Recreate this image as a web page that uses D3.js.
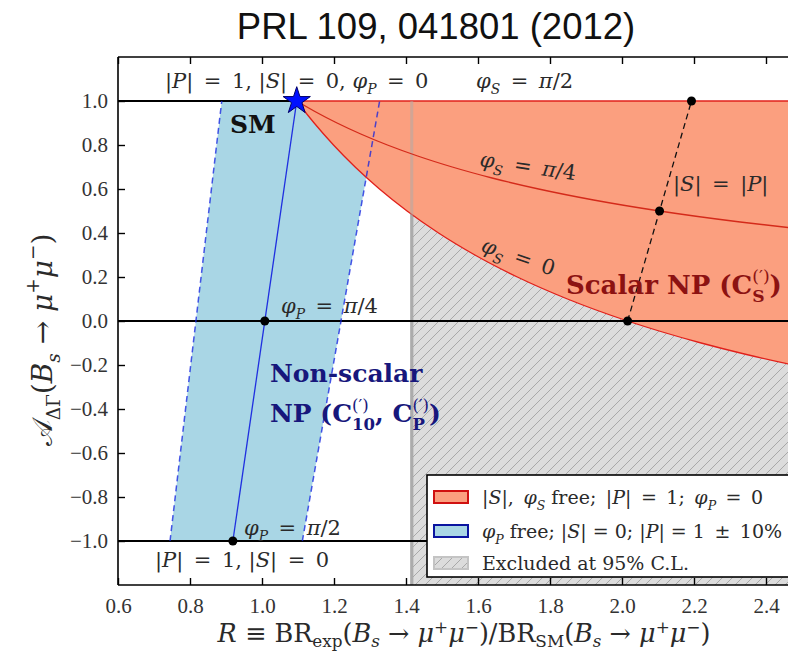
<!DOCTYPE html>
<html>
<head>
<meta charset="utf-8">
<script src="https://cdn.jsdelivr.net/npm/d3@7"></script>
<style>
  body { margin: 0; background: #fff; }
  text { white-space: pre; }
</style>
</head>
<body>
<svg id="chart" width="788" height="654" xmlns="http://www.w3.org/2000/svg"></svg>
<script>
// ---- data -------------------------------------------------------------
const xTicks = [0.6, 0.8, 1.0, 1.2, 1.4, 1.6, 1.8, 2.0, 2.2, 2.4];
const yTicks = [-1.0, -0.8, -0.6, -0.4, -0.2, 0.0, 0.2, 0.4, 0.6, 0.8, 1.0];

// phi_S = 0 boundary of the scalar region (R, A_DeltaGamma)
const phiS0R = [1.0965, 1.1201, 1.1449, 1.1986, 1.2587, 1.3263, 1.4029, 1.4904, 1.5914, 1.7092, 1.8485, 2.0156, 2.1124, 2.2199, 2.3400, 2.4752, 2.5341];
const phiS0A = [1.00, 0.95, 0.90, 0.80, 0.70, 0.60, 0.50, 0.40, 0.30, 0.20, 0.10, 0.00, -0.05, -0.10, -0.15, -0.20, -0.22];

// phi_S = pi/4 contour
const phiS45R = [1.0965, 1.1495, 1.2085, 1.2743, 1.3484, 1.4324, 1.5284, 1.6391, 1.7684, 1.9211, 2.1043, 2.3283, 2.4882, 2.5467];
const phiS45A = [1.00, 0.95, 0.90, 0.85, 0.80, 0.75, 0.70, 0.65, 0.60, 0.55, 0.50, 0.45, 0.42, 0.41];

// non-scalar band: |P| = 1 (centre) and |P| = 1 +/- 10 % (edges), phi_P free
const bandA = [-1.0, 1.0];
const bandLeftR = [0.7445, 0.8882];
const bandCenterR = [0.9191, 1.0965];
const bandRightR = [1.1121, 1.3268];

// |S| = |P| line
const sEqPR = [2.0156, 2.1930];
const sEqPA = [0.0, 1.0];

// marked points
const dotR = [0.9191, 1.0078, 2.0156, 2.1043, 2.1930];
const dotA = [-1.0, 0.0, 0.0, 0.5, 1.0];
const smPoint = [1.0965, 1.0];

// 95% C.L. exclusion bound on R
const excludedR = 1.416;

// ---- layout -----------------------------------------------------------
const svg = d3.select('#chart');
const X0 = 118, Y0 = 57, Y1 = 585;
const x = d3.scaleLinear().domain([0.6, 2.5]).range([X0, X0 + 1.9 * 360]);
const y = d3.scaleLinear().domain([-1.2, 1.2]).range([Y1, Y0]);
const SERIF = "'DejaVu Serif', serif";
const TSERIF = "'Liberation Serif', 'Times New Roman', serif";
const W = 788;
const E = '\u2002'; // en space, for math-style spacing around relations

svg.append('rect').attr('width', 788).attr('height', 654).attr('fill', '#fff');

const defs = svg.append('defs');
defs.append('clipPath').attr('id', 'plotClip')
  .append('rect').attr('x', X0).attr('y', Y0).attr('width', W - X0).attr('height', Y1 - Y0);

const pat = defs.append('pattern').attr('id', 'hatch')
  .attr('patternUnits', 'userSpaceOnUse').attr('width', 10).attr('height', 10);
pat.append('rect').attr('width', 10).attr('height', 10).attr('fill', '#dcdcdc');
pat.append('path').attr('d', 'M-2,2 L2,-2 M0,10 L10,0 M8,12 L12,8')
  .attr('stroke', '#9a9a9a').attr('stroke-width', 0.8);

const s0 = phiS0R.map((r, i) => [r, phiS0A[i]]);
const s45 = phiS45R.map((r, i) => [r, phiS45A[i]]);

// region below the phi_S = 0 boundary (limits the exclusion hatch)
defs.append('clipPath').attr('id', 'belowCurve')
  .append('path')
  .attr('d', d3.area().x(d => x(d[0])).y0(y(-1.3)).y1(d => y(d[1])).curve(d3.curveMonotoneX)(s0));

const plot = svg.append('g').attr('clip-path', 'url(#plotClip)');

// non-scalar band
plot.append('path')
  .attr('d', d3.line().x(d => x(d[0])).y(d => y(d[1]))([
    [bandLeftR[0], bandA[0]], [bandLeftR[1], bandA[1]],
    [bandRightR[1], bandA[1]], [bandRightR[0], bandA[0]]]))
  .attr('fill', '#a9d6e5');

// excluded region
plot.append('g').attr('clip-path', 'url(#belowCurve)')
  .append('rect')
  .attr('x', x(excludedR)).attr('y', y(1.0))
  .attr('width', x(2.6) - x(excludedR)).attr('height', y(-1.2) - y(1.0))
  .attr('fill', 'url(#hatch)');
plot.append('line')
  .attr('x1', x(excludedR)).attr('x2', x(excludedR))
  .attr('y1', y(-1.2)).attr('y2', y(1.0))
  .attr('stroke', '#ababab').attr('stroke-width', 3);

// horizontal reference line at the SM value
plot.append('line').attr('x1', x(0.6)).attr('x2', x(smPoint[0]))
  .attr('y1', y(1)).attr('y2', y(1)).attr('stroke', '#000').attr('stroke-width', 2.2);

// scalar region
plot.append('path')
  .attr('d', d3.area().x(d => x(d[0])).y0(d => y(d[1])).y1(y(1.0)).curve(d3.curveMonotoneX)(s0))
  .attr('fill', '#fb9f7f');
plot.append('path')
  .attr('d', d3.line().x(d => x(d[0])).y(d => y(d[1])).curve(d3.curveMonotoneX)(s0))
  .attr('fill', 'none').attr('stroke', '#e0201b').attr('stroke-width', 1.3);
plot.append('line').attr('x1', x(smPoint[0])).attr('x2', x(2.6))
  .attr('y1', y(1)).attr('y2', y(1)).attr('stroke', '#e0201b').attr('stroke-width', 1.3);
plot.append('line')
  .attr('x1', x(excludedR)).attr('x2', x(excludedR))
  .attr('y1', y(-1.2)).attr('y2', y(1.0))
  .attr('stroke', '#ababab').attr('stroke-width', 3).attr('opacity', 0.5);
plot.append('path')
  .attr('d', d3.line().x(d => x(d[0])).y(d => y(d[1])).curve(d3.curveMonotoneX)(s45))
  .attr('fill', 'none').attr('stroke', '#d42a1a').attr('stroke-width', 1.3);

[0, -1].forEach(a => {
  plot.append('line').attr('x1', x(0.6)).attr('x2', x(2.6))
    .attr('y1', y(a)).attr('y2', y(a)).attr('stroke', '#000').attr('stroke-width', 2.2);
});

// band lines
const seg = (r, a) => d3.line().x(d => x(d[0])).y(d => y(d[1]))([[r[0], a[0]], [r[1], a[1]]]);
plot.append('path').attr('d', seg(bandCenterR, bandA))
  .attr('stroke', '#1f2fe0').attr('stroke-width', 1.3).attr('fill', 'none');
[bandLeftR, bandRightR].forEach(r => {
  plot.append('path').attr('d', seg(r, bandA))
    .attr('stroke', '#1020e0').attr('stroke-width', 1.5).attr('fill', 'none')
    .attr('stroke-dasharray', '6,4').attr('opacity', 0.75);
});
plot.append('path').attr('d', seg(sEqPR, sEqPA))
  .attr('stroke', '#111').attr('stroke-width', 1.3).attr('fill', 'none')
  .attr('stroke-dasharray', '6,4');

// points
plot.selectAll('circle.pt').data(dotR).join('circle')
  .attr('cx', d => x(d)).attr('cy', (d, i) => y(dotA[i])).attr('r', 4.5).attr('fill', '#000');
plot.append('path')
  .attr('d', d3.symbol(d3.symbolStar, 230)())
  .attr('transform', `translate(${x(smPoint[0])},${y(smPoint[1])})`)
  .attr('fill', '#0010ff').attr('stroke', '#000066').attr('stroke-width', 1);

// ---- text helper: parts are [string, kind, stackBack]
function mtext(g, px, py, size, parts, opts = {}) {
  const t = g.append('text').attr('x', px).attr('y', py)
    .attr('font-size', size).attr('font-family', opts.family || SERIF)
    .attr('fill', opts.color || '#2a2a2a')
    .attr('text-anchor', opts.anchor || 'start');
  const subShift = opts.sub || 0.3, supShift = opts.sup || 0.45;
  let shift = 0, prev = null, pending = 0;
  for (const [s, k, back] of parts) {
    const ts = t.append('tspan').text(s);
    let target = 0, fs = size;
    if (k.includes('sub')) { target = subShift * size; fs = 0.66 * size; }
    else if (k.includes('sup')) { target = -supShift * size; fs = 0.66 * size; }
    if (k.startsWith('i')) ts.attr('font-style', 'italic');
    if (k.startsWith('b') || opts.bold) ts.attr('font-weight', 'bold');
    ts.attr('font-size', fs).attr('dy', target - shift);
    if (back && prev) {
      const wPrev = prev.node().getComputedTextLength();
      ts.attr('dx', -wPrev);
      const wThis = ts.node().getComputedTextLength();
      pending = Math.max(0, wPrev - wThis);
    } else if (pending) {
      ts.attr('dx', pending);
      pending = 0;
    }
    shift = target; prev = ts;
  }
  return t;
}

const labels = svg.append('g').attr('clip-path', 'url(#plotClip)');
const LS = 21;
const EQ = E + '=' + E;
mtext(labels, 165, 88, LS, [['|', 'r'], ['P', 'i'], ['|' + EQ + '1, |', 'r'], ['S', 'i'], ['|' + EQ + '0, ', 'r'], ['φ', 'i'], ['P', 'isub'], [EQ + '0', 'r']]);
mtext(labels, 476, 88, LS, [['φ', 'i'], ['S', 'isub'], [EQ, 'r'], ['π', 'i'], ['/2', 'r']]);
mtext(labels, 230, 133, 25, [['SM', 'b']], { color: '#111' });
mtext(labels.append('g').attr('transform', 'translate(479,166) rotate(8.5)'), 0, 0, LS,
  [['φ', 'i'], ['S', 'isub'], [EQ, 'r'], ['π', 'i'], ['/4', 'r']]);
mtext(labels, 673, 191, LS, [['|', 'r'], ['S', 'i'], ['|' + EQ + '|', 'r'], ['P', 'i'], ['|', 'r']]);
mtext(labels.append('g').attr('transform', 'translate(480,251) rotate(19)'), 0, 0, LS,
  [['φ', 'i'], ['S', 'isub'], [EQ + '0', 'r']]);
mtext(labels, 566, 294, 26, [['Scalar NP (C', 'b'], ['S', 'bsub'], ['(′)', 'sup', true], [')', 'b']], { color: '#8c1212' });
mtext(labels, 281, 313, LS, [['φ', 'i'], ['P', 'isub'], [EQ, 'r'], ['π', 'i'], ['/4', 'r']]);
mtext(labels, 270, 382, 25, [['Non-scalar', 'b']], { color: '#17177c' });
mtext(labels, 270, 422, 25, [['NP (C', 'b'], ['10', 'bsub'], ['(′)', 'sup', true], [', C', 'b'], ['P', 'bsub'], ['(′)', 'sup', true], [')', 'b']], { color: '#17177c' });
mtext(labels, 244, 535, LS, [['φ', 'i'], ['P', 'isub'], [EQ, 'r'], ['π', 'i'], ['/2', 'r']]);
mtext(labels, 155, 567, LS, [['|', 'r'], ['P', 'i'], ['|' + EQ + '1, |', 'r'], ['S', 'i'], ['|' + EQ + '0', 'r']]);

// ---- legend -----------------------------------------------------------
const lg = svg.append('g');
lg.append('rect').attr('x', 427).attr('y', 475).attr('width', 400).attr('height', 102)
  .attr('fill', '#fff').attr('stroke', '#000').attr('stroke-width', 1.6);
const legendRows = [
  { y: 497, fill: '#fb9f7f', stroke: '#d01010',
    parts: [['|', 'r'], ['S', 'i'], ['|,' + E, 'r'], ['φ', 'i'], ['S', 'isub'], [' free;' + E + '|', 'r'], ['P', 'i'], ['|' + EQ + '1;' + E, 'r'], ['φ', 'i'], ['P', 'isub'], [EQ + '0', 'r']] },
  { y: 531, fill: '#a9d6e5', stroke: '#0a14a0',
    parts: [['φ', 'i'], ['P', 'isub'], [' free; |', 'r'], ['S', 'i'], ['| = 0; |', 'r'], ['P', 'i'], ['| = 1' + E + '±' + E + '10%', 'r']] },
  { y: 563, fill: 'url(#hatch)', stroke: '#c4c4c4',
    parts: [['Excluded at 95% C.L.', 'r']] }
];
legendRows.forEach(row => {
  lg.append('rect').attr('x', 434).attr('y', row.y - 6).attr('width', 34).attr('height', 12)
    .attr('fill', row.fill).attr('stroke', row.stroke).attr('stroke-width', 2);
  mtext(lg, 482, row.y + 7, 19, row.parts);
});

// ---- axes frame and ticks ---------------------------------------------
const frame = svg.append('g');
frame.append('line').attr('x1', X0).attr('x2', W).attr('y1', Y0).attr('y2', Y0).attr('stroke', '#000').attr('stroke-width', 1.6);
frame.append('line').attr('x1', X0).attr('x2', W).attr('y1', Y1).attr('y2', Y1).attr('stroke', '#000').attr('stroke-width', 1.6);
frame.append('line').attr('x1', X0).attr('x2', X0).attr('y1', Y0).attr('y2', Y1).attr('stroke', '#000').attr('stroke-width', 1.6);

const fmt = d3.format('.1f');
const minus = s => s.replace('-', '−');
const xAxisB = d3.axisBottom(x).tickValues(xTicks).tickSize(-7).tickPadding(13).tickFormat(d => fmt(d));
const xAxisT = d3.axisTop(x).tickValues(xTicks).tickSize(-7).tickFormat('');
const yAxisL = d3.axisLeft(y).tickValues(yTicks).tickSize(-7).tickPadding(10).tickFormat(d => minus(fmt(d)));
function styleAxis(g) {
  g.select('.domain').remove();
  g.selectAll('.tick line').attr('stroke', '#000').attr('stroke-width', 1.4);
  g.selectAll('.tick text').attr('font-family', TSERIF).attr('font-size', 21).attr('fill', '#333');
}
svg.append('g').attr('transform', `translate(0,${Y1})`).call(xAxisB).call(styleAxis);
svg.append('g').attr('transform', `translate(0,${Y0})`).call(xAxisT).call(styleAxis);
svg.append('g').attr('transform', `translate(${X0},0)`).call(yAxisL).call(styleAxis);

// ---- titles -----------------------------------------------------------
svg.append('text').attr('x', 436).attr('y', 39).attr('text-anchor', 'middle')
  .attr('font-family', "'Liberation Sans', Arial, sans-serif").attr('font-size', 36.5)
  .attr('fill', '#111').text('PRL 109, 041801 (2012)');

mtext(svg, 464, 642, 25.5, [
  ['R', 'i'], [' ≡ BR', 'r'], ['exp', 'sub'], ['(', 'r'], ['B', 'i'], ['s', 'isub'], [' → ', 'r'],
  ['μ', 'i'], ['+', 'sup'], ['μ', 'i'], ['−', 'sup'], [')/BR', 'r'], ['SM', 'sub'], ['(', 'r'],
  ['B', 'i'], ['s', 'isub'], [' → ', 'r'], ['μ', 'i'], ['+', 'sup'], ['μ', 'i'], ['−', 'sup'], [')', 'r']
], { anchor: 'middle', sub: 0.2, sup: 0.36 });

mtext(svg.append('g').attr('transform', 'translate(52,340) rotate(-90)'), 0, 0, 28, [
  ['𝒜', 'r'], ['ΔΓ', 'sub'], ['(', 'r'], ['B', 'i'], ['s', 'isub'], [' → ', 'r'],
  ['μ', 'i'], ['+', 'sup'], ['μ', 'i'], ['−', 'sup'], [')', 'r']
], { anchor: 'middle' });
</script>
</body>
</html>
